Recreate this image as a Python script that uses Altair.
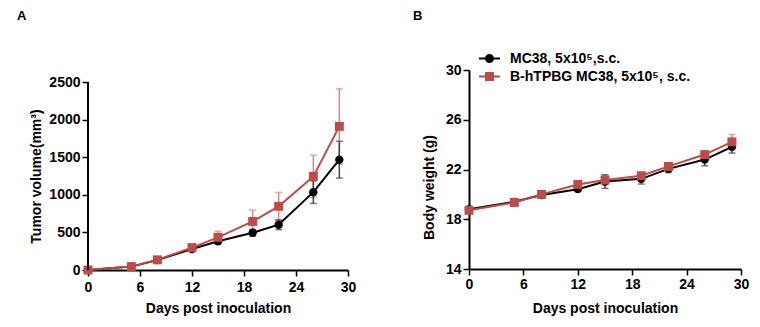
import altair as alt
import pandas as pd

days = [0, 5, 8, 12, 15, 19, 22, 26, 29]
groups = ["MC38, 5x10⁵,s.c.", "B-hTPBG MC38, 5x10⁵, s.c."]

vol_mc38 = [0, 45, 132, 280, 382, 495, 602, 1035, 1467]
vol_mc38_sd = [0, 8, 12, 20, 28, 45, 65, 150, 245]
vol_htpbg = [0, 45, 135, 298, 434, 646, 847, 1245, 1910]
vol_htpbg_sd = [0, 8, 12, 25, 80, 150, 185, 283, 500]

bw_mc38 = [18.8, 19.4, 19.95, 20.42, 21.03, 21.25, 22.05, 22.8, 23.82]
bw_mc38_sd = [0.12, 0.1, 0.12, 0.18, 0.55, 0.42, 0.3, 0.5, 0.5]
bw_htpbg = [18.72, 19.35, 20.0, 20.8, 21.15, 21.5, 22.25, 23.2, 24.22]
bw_htpbg_sd = [0.12, 0.12, 0.12, 0.2, 0.4, 0.2, 0.2, 0.25, 0.6]

vol_ticks = [0, 500, 1000, 1500, 2000, 2500]
bw_ticks = [14, 18, 22, 26, 30]
day_ticks = [0, 6, 12, 18, 24, 30]

BLACK = "#000000"
RED = "#BE4B48"
FONT = "Liberation Sans"


def frame(means, sds, group):
    return pd.DataFrame({
        "day": days,
        "mean": means,
        "lo": [m - s for m, s in zip(means, sds)],
        "hi": [m + s for m, s in zip(means, sds)],
        "group": group,
    })


def series_layers(df, color, err_color, shape, size, xs, ys):
    base = alt.Chart(df)
    x = alt.X("day:Q", scale=xs["scale"], axis=xs["axis"], title=xs["title"])

    def y(field):
        return alt.Y(field, scale=ys["scale"], axis=ys["axis"], title=ys["title"])

    err = base.mark_rule(color=err_color, strokeWidth=1.5).encode(
        x=x, y=y("lo:Q"), y2="hi:Q")
    cap_lo = base.mark_tick(color=err_color, orient="horizontal", size=7, thickness=1.5).encode(
        x=x, y=y("lo:Q"))
    cap_hi = base.mark_tick(color=err_color, orient="horizontal", size=7, thickness=1.5).encode(
        x=x, y=y("hi:Q"))
    line = base.mark_line(color=color, strokeWidth=2).encode(x=x, y=y("mean:Q"))
    pts = base.mark_point(shape=shape, filled=True, size=size, color=color, opacity=1).encode(
        x=x, y=y("mean:Q"))
    return [err, cap_lo, cap_hi], [line, pts]


def axis_x(lp, tp):
    return alt.Axis(values=day_ticks, tickSize=6, tickWidth=1.5, labelPadding=lp,
                    titlePadding=tp, domainWidth=2, domainColor="black", tickColor="black",
                    labelFont=FONT, labelFontSize=14, labelFontWeight="bold", labelColor="black",
                    titleFont=FONT, titleFontSize=14, titleFontWeight="bold", titleColor="black",
                    grid=False, labelFlush=False, labelOverlap=False, format="d")


def axis_y(vals, ext, tp, ty, dom_opacity=1):
    return alt.Axis(values=vals, tickSize=6, tickWidth=1.5, labelPadding=2,
                    titlePadding=tp, minExtent=ext, maxExtent=ext, domainWidth=2,
                    domainColor="black", domainOpacity=dom_opacity, tickColor="black", titleY=ty,
                    labelFont=FONT, labelFontSize=14, labelFontWeight="bold", labelColor="black",
                    titleFont=FONT, titleFontSize=14, titleFontWeight="bold", titleColor="black",
                    grid=False, labelFlush=False, labelOverlap=False, format="d")


def panel(df_black, df_red, xs, ys):
    e_red, m_red = series_layers(df_red, RED, "#D58A88", "square", 80, xs, ys)
    e_blk, m_blk = series_layers(df_black, BLACK, "#444444", "circle", 70, xs, ys)
    return e_red + e_blk + m_blk + m_red


NO_FRAME = alt.ViewBackground(stroke="transparent", strokeWidth=0)

# Panel A (plot area is a bit taller than the 0-2500 range; the axis line stops at 2500)
a1 = frame(vol_mc38, vol_mc38_sd, groups[0])
a2 = frame(vol_htpbg, vol_htpbg_sd, groups[1])
xsA = {"scale": alt.Scale(domain=[0, 30], nice=False), "axis": axis_x(4, 7), "title": "Days post inoculation"}
ysA = {"scale": alt.Scale(domain=[0, 2660], nice=False),
       "axis": axis_y(vol_ticks, 39, 6, 106, dom_opacity=0),
       "title": "Tumor volume(mm³)"}
axis_line_A = alt.Chart(pd.DataFrame({"tick": vol_ticks})).mark_rule(
    color="black", strokeWidth=2).encode(
    x=alt.value(0),
    y=alt.Y("min(tick):Q", scale=ysA["scale"], axis=ysA["axis"], title=ysA["title"]),
    y2="max(tick):Q",
)
chartA = alt.layer(*panel(a1, a2, xsA, ysA), axis_line_A).properties(
    width=260, height=200, view=NO_FRAME,
    title=alt.TitleParams("A", anchor="start", frame="group", dx=-71, offset=47,
                          fontSize=13, fontWeight="bold", font=FONT, color="black"))

# Panel B
b1 = frame(bw_mc38, bw_mc38_sd, groups[0])
b2 = frame(bw_htpbg, bw_htpbg_sd, groups[1])
xsB = {"scale": alt.Scale(domain=[0, 30], nice=False), "axis": axis_x(2, 10), "title": "Days post inoculation"}
ysB = {"scale": alt.Scale(domain=[14, 30], nice=False), "axis": axis_y(bw_ticks, 24, 9, 117),
       "title": "Body weight (g)"}

circle_path = ("M-1,-0.095H1V0.095H-1Z "
               "M0.43,0A0.43,0.43 0 1,1 -0.43,0A0.43,0.43 0 1,1 0.43,0Z")
square_path = "M-1,-0.095H1V0.095H-1Z M-0.43,-0.43H0.43V0.43H-0.43Z"

leg_common = dict(title=None, orient="none", legendX=10, legendY=-22, padding=0,
                  symbolSize=441, symbolStrokeWidth=0, labelFont=FONT, labelFontSize=14,
                  labelFontWeight="bold", labelColor="black", labelOffset=10, rowPadding=-2,
                  labelLimit=400)
legend_layer = alt.Chart(pd.concat([b1, b2])).transform_filter("false").mark_point(
    filled=True, opacity=1).encode(
    x=alt.X("day:Q", scale=xsB["scale"], axis=xsB["axis"], title=xsB["title"]),
    y=alt.Y("mean:Q", scale=ysB["scale"], axis=ysB["axis"], title=ysB["title"]),
    shape=alt.Shape("group:N", scale=alt.Scale(domain=groups, range=[circle_path, square_path]),
                    legend=alt.Legend(**leg_common)),
    color=alt.Color("group:N", scale=alt.Scale(domain=groups, range=[BLACK, RED]),
                    legend=alt.Legend(**leg_common)),
)
chartB = alt.layer(*panel(b1, b2, xsB, ysB), legend_layer).properties(
    width=272, height=199, view=NO_FRAME,
    title=alt.TitleParams("B", anchor="start", frame="group", dx=-56, offset=25,
                          fontSize=13, fontWeight="bold", font=FONT, color="black"))

chart = alt.hconcat(chartA, chartB, spacing=57).resolve_scale(
    x="independent", y="independent", color="independent", shape="independent"
).properties(
    padding={"left": 17, "top": 10, "right": 5, "bottom": 5}
).configure_view(stroke="transparent", strokeWidth=0).configure(background="white")

chart.save("out.html", embed_options={"renderer": "svg", "actions": False})
